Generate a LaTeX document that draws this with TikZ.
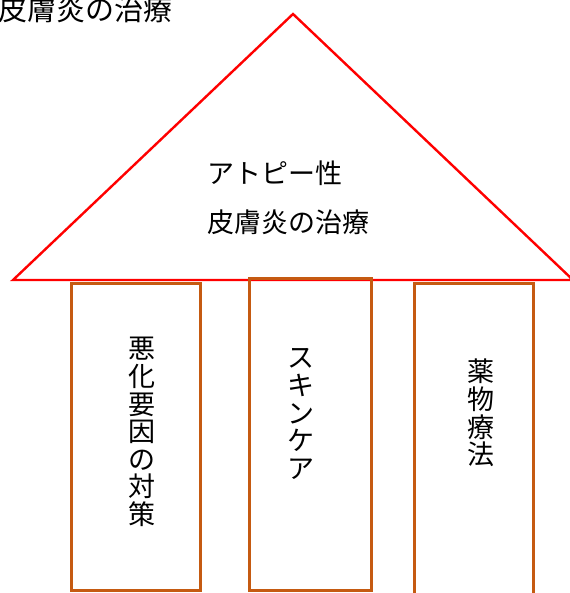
\documentclass[tikz,border=0pt]{standalone}
\usepackage{fontspec}
\newfontfamily\jp{Noto Sans CJK JP}
\definecolor{techo}{RGB}{255,0,0}
\definecolor{pilar}{RGB}{197,90,17}
\begin{document}
\begin{tikzpicture}[x=1pt,y=-1pt,
    texto/.style={font=\jp\fontsize{27}{27.6}\selectfont, inner sep=0pt, align=center},
    lineas/.style={font=\jp\fontsize{27}{49}\selectfont, inner sep=0pt, align=left},
    titulo/.style={font=\jp\fontsize{29}{30}\selectfont, inner sep=0pt},
    pilarlinea/.style={draw=pilar, line width=3pt}]
    \useasboundingbox (0,0) rectangle (569,593);

    % Titulo (cortado)
    \node[titulo, anchor=east] (encabezado) at (173,9) {アトピー性皮膚炎の治療};

    % Techo
    \coordinate (cima) at (293,14);
    \coordinate (izq) at (13,280);
    \coordinate (der) at (573,280);
    \draw[techo, line width=2.4pt, line join=miter] (izq) -- (cima) -- (der) -- cycle;
    \node[lineas, anchor=west] (tema) at (207,197.5) {アトピー性\\皮膚炎の治療};

    % Pilares
    \draw[pilarlinea] (71,283) rectangle (200,590);
    \draw[pilarlinea] (249,278) rectangle (371,590);
    \draw[pilarlinea] (414,600) |- (533,283) -- (533,600);

    % Textos verticales
    \node[texto] (factores) at (141.5,432) {悪\\化\\要\\因\\の\\対\\策};
    \node[texto] (piel) at (301,414) {ス\\キ\\ン\\ケ\\ア};
    \node[texto] (farmaco) at (481,413) {薬\\物\\療\\法};
\end{tikzpicture}
\end{document}
